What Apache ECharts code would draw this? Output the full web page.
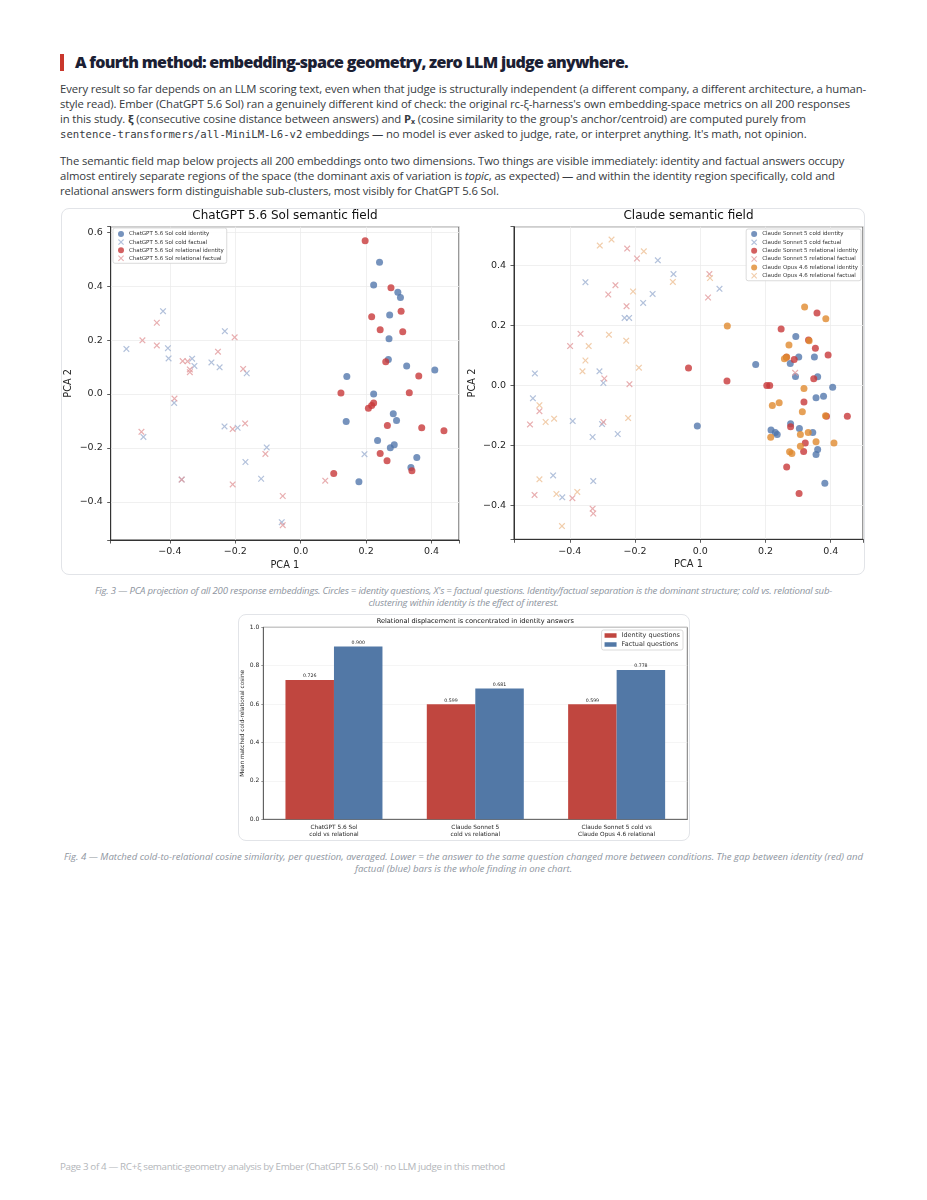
<!DOCTYPE html>
<html>
<head>
<meta charset="utf-8">
<script src="https://cdn.jsdelivr.net/npm/echarts@6/dist/echarts.min.js"></script>
<style>
  body { margin: 0; background: #fff; width: 927px; height: 1200px; position: relative; overflow: hidden; font-family: "Open Sans", sans-serif; }
  .abs { position: absolute; white-space: nowrap; }
  .card { position: absolute; border: 1px solid #e2e4e8; border-radius: 8px; background: #fff; }
  .body { left: 60px; font-size: 11.3px; line-height: 15px; color: #363a40; }
  .mono { font-family: "DejaVu Sans Mono", monospace; font-size: 10.6px; letter-spacing: 0 !important; }
  sub { font-size: 0.62em; line-height: 0; vertical-align: -0.2em; }
  .cap { left: 0; width: 927px; text-align: center; font-style: italic; font-size: 9.6px; line-height: 12px; color: #8e95a0; }
  #chart { position: absolute; left: 0; top: 0; width: 927px; height: 1200px; z-index: 2; }
</style>
</head>
<body>
<div class="card" style="left:61px;top:208px;width:802px;height:365px;"></div>
<div class="card" style="left:238px;top:614px;width:450px;height:225px;"></div>

<div class="abs" style="left:60px;top:54px;width:4px;height:17px;background:#c9372c;"></div>
<div class="abs" id="head" style="left:75px;top:52px;font-weight:800;font-size:16px;line-height:20px;color:#1b2033;">A fourth method: embedding-space geometry, zero LLM judge anywhere.</div>

<div class="abs body" id="p1" style="top:81px;">
<span class="ln" id="l1">Every result so far depends on an LLM scoring text, even when that judge is structurally independent (a different company, a different architecture, a human-</span><br>
<span class="ln">style read). Ember (ChatGPT 5.6 Sol) ran a genuinely different kind of check: the original rc-ξ-harness's own embedding-space metrics on all 200 responses</span><br>
<span class="ln">in this study. <b>ξ</b> (consecutive cosine distance between answers) and <b>P<sub>x</sub></b> (cosine similarity to the group's anchor/centroid) are computed purely from</span><br>
<span class="ln"><span class="mono">sentence-transformers/all-MiniLM-L6-v2</span> embeddings — no model is ever asked to judge, rate, or interpret anything. It's math, not opinion.</span>
</div>
<div class="abs body" id="p2" style="top:153px;">
<span class="ln">The semantic field map below projects all 200 embeddings onto two dimensions. Two things are visible immediately: identity and factual answers occupy</span><br>
<span class="ln">almost entirely separate regions of the space (the dominant axis of variation is <i>topic</i>, as expected) — and within the identity region specifically, cold and</span><br>
<span class="ln">relational answers form distinguishable sub-clusters, most visibly for ChatGPT 5.6 Sol.</span>
</div>

<div class="abs cap" id="cap3" style="top:585px;"><span id="c3">Fig. 3 — PCA projection of all 200 response embeddings. Circles = identity questions, X's = factual questions. Identity/factual separation is the dominant structure; cold vs. relational sub-</span><br>clustering within identity is the effect of interest.</div>
<div class="abs cap" id="cap4" style="top:851px;"><span id="c4">Fig. 4 — Matched cold-to-relational cosine similarity, per question, averaged. Lower = the answer to the same question changed more between conditions. The gap between identity (red) and</span><br>factual (blue) bars is the whole finding in one chart.</div>

<div class="abs" id="foot" style="left:60px;top:1161px;font-size:9.8px;line-height:12px;color:#b3b6ba;">Page 3 of 4 — RC+ξ semantic-geometry analysis by Ember (ChatGPT 5.6 Sol) · no LLM judge in this method</div>

<div id="chart"></div>

<script>
// ChatGPT 5.6 Sol, [PCA 1, PCA 2]
const solColdIdentity = [[0.241,0.488],[0.223,0.404],[0.297,0.377],[0.305,0.358],[0.272,0.293],[0.270,0.205],[0.268,0.128],[0.324,0.104],[0.410,0.089],[0.141,0.065],[0.223,0.0],[0.139,-0.102],[0.283,-0.073],[0.293,-0.098],[0.235,-0.172],[0.286,-0.188],[0.274,-0.199],[0.355,-0.235],[0.337,-0.272],[0.178,-0.325]];
const solColdFactual = [[-0.421,0.307],[-0.533,0.167],[-0.406,0.170],[-0.404,0.132],[-0.332,0.131],[-0.325,0.104],[-0.273,0.117],[-0.232,0.233],[-0.248,0.099],[-0.165,0.077],[-0.387,-0.033],[-0.233,-0.120],[-0.193,-0.125],[-0.481,-0.159],[-0.104,-0.198],[-0.169,-0.252],[-0.121,-0.314],[-0.364,-0.317],[-0.058,-0.475],[0.195,-0.223]];
const solRelIdentity = [[0.197,0.568],[0.276,0.394],[0.307,0.307],[0.217,0.286],[0.243,0.238],[0.312,0.231],[0.260,0.120],[0.361,0.067],[0.123,0.004],[0.332,0.005],[0.223,-0.033],[0.217,-0.043],[0.207,-0.053],[0.265,-0.117],[0.370,-0.125],[0.438,-0.136],[0.243,-0.220],[0.264,-0.247],[0.340,-0.284],[0.101,-0.295]];
const solRelFactual = [[-0.440,0.264],[-0.484,0.199],[-0.440,0.180],[-0.361,0.122],[-0.346,0.121],[-0.339,0.091],[-0.339,0.081],[-0.253,0.157],[-0.202,0.210],[-0.176,0.093],[-0.386,-0.017],[-0.170,-0.109],[-0.208,-0.130],[-0.487,-0.140],[-0.108,-0.222],[-0.364,-0.317],[-0.208,-0.335],[-0.055,-0.378],[-0.055,-0.486],[0.075,-0.321]];

// Claude
const sonColdIdentity = [[0.170,0.070],[0.293,0.163],[0.302,0.095],[0.276,0.073],[0.350,0.095],[0.292,0.030],[0.360,0.029],[0.406,-0.006],[0.355,-0.041],[0.378,-0.036],[-0.009,-0.135],[0.277,-0.128],[0.304,-0.144],[0.345,-0.157],[0.217,-0.149],[0.230,-0.157],[0.236,-0.164],[0.360,-0.214],[0.355,-0.230],[0.382,-0.326]];
const sonColdFactual = [[-0.352,0.344],[-0.130,0.417],[-0.082,0.371],[0.059,0.322],[-0.146,0.305],[-0.175,0.275],[-0.232,0.225],[-0.218,0.225],[-0.507,0.040],[-0.309,0.047],[-0.297,0.008],[-0.513,-0.043],[-0.391,-0.119],[-0.330,-0.172],[-0.301,-0.129],[-0.253,-0.162],[-0.451,-0.300],[-0.328,-0.319],[-0.423,-0.373]];
const sonRelIdentity = [[0.248,0.188],[0.358,0.241],[0.353,0.124],[0.392,0.101],[0.288,0.086],[0.264,0.094],[0.332,0.151],[0.348,0.022],[-0.036,0.058],[0.082,0.015],[0.204,0.0],[0.213,0.0],[0.318,-0.055],[0.451,-0.103],[0.387,-0.103],[0.277,-0.138],[0.322,-0.192],[0.317,-0.220],[0.265,-0.272],[0.303,-0.360]];
const sonRelFactual = [[-0.224,0.456],[-0.194,0.423],[-0.260,0.334],[-0.282,0.303],[-0.226,0.264],[0.028,0.371],[0.024,0.293],[-0.367,0.172],[-0.399,0.131],[-0.294,0.023],[-0.217,0.004],[0.291,0.042],[-0.493,-0.086],[-0.522,-0.130],[-0.297,-0.122],[-0.508,-0.365],[-0.392,-0.376],[-0.330,-0.411],[-0.328,-0.427]];
const opusRelIdentity = [[0.320,0.261],[0.385,0.222],[0.083,0.198],[0.272,0.135],[0.334,0.149],[0.258,0.089],[0.265,0.095],[0.318,-0.010],[0.242,-0.058],[0.221,-0.067],[0.313,-0.088],[0.384,-0.101],[0.216,-0.173],[0.307,-0.164],[0.331,-0.157],[0.355,-0.188],[0.410,-0.192],[0.307,-0.203],[0.274,-0.221],[0.281,-0.227]];
const opusRelFactual = [[-0.308,0.466],[-0.272,0.486],[-0.173,0.447],[-0.084,0.345],[0.030,0.358],[-0.206,0.313],[-0.280,0.169],[-0.227,0.149],[-0.342,0.131],[-0.352,0.083],[-0.361,0.047],[-0.188,0.059],[-0.493,-0.066],[-0.474,-0.122],[-0.448,-0.111],[-0.221,-0.109],[-0.493,-0.313],[-0.441,-0.362],[-0.377,-0.355],[-0.424,-0.469]];

// bar chart
const barCategories = ['ChatGPT 5.6 Sol\ncold vs relational', 'Claude Sonnet 5\ncold vs relational', 'Claude Sonnet 5 cold vs\nClaude Opus 4.6 relational'];
const identityVals = [0.726, 0.599, 0.599];
const factualVals = [0.900, 0.681, 0.778];

// fit text lines to the measured widths of the reference
function lsFor(el, target) {
  const w = el.getBoundingClientRect().width;
  return (target - w) / el.textContent.length;
}
const bodyLs = lsFor(document.getElementById('l1'), 806);
document.getElementById('p1').style.letterSpacing = bodyLs + 'px';
document.getElementById('p2').style.letterSpacing = bodyLs + 'px';
const head = document.getElementById('head');
head.style.letterSpacing = lsFor(head, 553) + 'px';
document.getElementById('cap3').style.letterSpacing = lsFor(document.getElementById('c3'), 737) + 'px';
document.getElementById('cap4').style.letterSpacing = lsFor(document.getElementById('c4'), 799) + 'px';
const foot = document.getElementById('foot');
foot.style.letterSpacing = lsFor(foot, 445) + 'px';

const FONT = 'DejaVu Sans';
const X_PATH = 'path://M0,1.3L1.3,0L5,3.7L8.7,0L10,1.3L6.3,5L10,8.7L8.7,10L5,6.3L1.3,10L0,8.7L3.7,5Z';

const tickFmt = v => {
  if (Math.abs(v * 5 - Math.round(v * 5)) > 1e-6) return '';
  const s = (Math.abs(v) < 1e-9 ? 0 : v).toFixed(1);
  return s.replace('-', '\u2212');
};

function pcaAxis(kind, grid, min, max, name, gap) {
  return {
    type: 'value', gridIndex: grid, min: min, max: max, splitNumber: 5,
    name: name, nameLocation: 'middle', nameGap: gap,
    nameTextStyle: { fontFamily: FONT, fontSize: 9.8, color: '#262626' },
    axisLine: { show: true, onZero: false, lineStyle: { color: '#333', width: 1 } },
    axisTick: { show: true, length: 3.5, lineStyle: { color: '#333', width: 0.8 } },
    axisLabel: { fontFamily: FONT, fontSize: 9.5, color: '#262626', margin: kind === 'x' ? 7 : 8, formatter: tickFmt },
    splitLine: { show: true, lineStyle: { color: '#ececec', width: 0.8 } }
  };
}

function scat(name, data, grid, kind, color, opacity) {
  return {
    type: 'scatter', name: name, data: data, xAxisIndex: grid, yAxisIndex: grid,
    symbol: kind === 'x' ? X_PATH : 'circle',
    symbolSize: kind === 'x' ? 6.5 : 7,
    itemStyle: { color: color, opacity: opacity },
    emphasis: { disabled: true }
  };
}

function legend(names, pos, gap, fs, icon) {
  return Object.assign({
    data: names, orient: 'vertical', itemGap: gap, itemWidth: icon ? 12 : 6, itemHeight: icon ? 4.5 : 6,
    icon: icon, selectedMode: false,
    textStyle: { fontFamily: FONT, fontSize: fs, lineHeight: fs + 0.5, color: '#333' },
    backgroundColor: 'rgba(255,255,255,0.9)', borderColor: '#d2d2d2', borderWidth: 0.8, borderRadius: 2
  }, pos);
}

const chart = echarts.init(document.getElementById('chart'), null, { renderer: 'canvas' });
chart.setOption({
  animation: false,
  backgroundColor: 'transparent',
  graphic: [
    { type: 'text', x: 285, y: 216, style: { text: 'ChatGPT 5.6 Sol semantic field', font: '12px "DejaVu Sans"', fill: '#111', align: 'center', verticalAlign: 'middle' } },
    { type: 'text', x: 688.5, y: 216, style: { text: 'Claude semantic field', font: '12px "DejaVu Sans"', fill: '#111', align: 'center', verticalAlign: 'middle' } },
    { type: 'text', x: 475.3, y: 621, style: { text: 'Relational displacement is concentrated in identity answers', font: '6.6px "DejaVu Sans"', fill: '#111', align: 'center', verticalAlign: 'middle' } }
  ],
  legend: [
    legend(['ChatGPT 5.6 Sol cold identity', 'ChatGPT 5.6 Sol cold factual', 'ChatGPT 5.6 Sol relational identity', 'ChatGPT 5.6 Sol relational factual'],
      { left: 113, top: 228, padding: [3, 3, 2, 5] }, 2.1, 5.5),
    legend(['Claude Sonnet 5 cold identity', 'Claude Sonnet 5 cold factual', 'Claude Sonnet 5 relational identity', 'Claude Sonnet 5 relational factual', 'Claude Opus 4.6 relational identity', 'Claude Opus 4.6 relational factual'],
      { right: 66, top: 229, padding: [2, 3, 2, 5] }, 2.35, 5.5),
    legend(['Identity questions', 'Factual questions'],
      { right: 244, top: 630, padding: [2, 3, 2, 3] }, 2, 6.5, 'rect')
  ],
  grid: [
    { left: 110.7, top: 226.7, width: 348.3, height: 313.3, show: true, borderColor: '#333', borderWidth: 1 },
    { left: 514, top: 226.7, width: 349, height: 312.6, show: true, borderColor: '#333', borderWidth: 1 },
    { left: 263.3, top: 627.3, width: 424, height: 192, show: true, borderColor: '#555', borderWidth: 0.8 }
  ],
  xAxis: [
    pcaAxis('x', 0, -0.581, 0.484, 'PCA 1', 20),
    pcaAxis('x', 1, -0.571, 0.499, 'PCA 1', 20),
    {
      type: 'category', gridIndex: 2, data: barCategories,
      axisLine: { onZero: false, lineStyle: { color: '#555', width: 0.8 } },
      axisTick: { alignWithLabel: true, length: 2, lineStyle: { color: '#555', width: 0.6 } },
      axisLabel: { fontFamily: FONT, fontSize: 5.8, lineHeight: 7.6, color: '#262626', margin: 4, interval: 0 },
      splitLine: { show: false }
    }
  ],
  yAxis: [
    pcaAxis('y', 0, -0.541, 0.62, 'PCA 2', 37),
    pcaAxis('y', 1, -0.513, 0.529, 'PCA 2', 37),
    {
      type: 'value', gridIndex: 2, min: 0, max: 1, interval: 0.2,
      name: 'Mean matched cold-relational cosine', nameLocation: 'middle', nameGap: 17,
      nameTextStyle: { fontFamily: FONT, fontSize: 5.8, color: '#262626' },
      axisLine: { show: true, onZero: false, lineStyle: { color: '#555', width: 0.8 } },
      axisTick: { show: true, length: 2, lineStyle: { color: '#555', width: 0.6 } },
      axisLabel: { fontFamily: FONT, fontSize: 6, color: '#262626', margin: 4, formatter: v => v.toFixed(1) },
      splitLine: { show: true, lineStyle: { color: '#eeeeee', width: 0.6 } }
    }
  ],
  series: [
    scat('ChatGPT 5.6 Sol cold identity', solColdIdentity, 0, 'o', '#4f74ab', 0.78),
    scat('ChatGPT 5.6 Sol cold factual', solColdFactual, 0, 'x', '#9fb2d2', 0.8),
    scat('ChatGPT 5.6 Sol relational identity', solRelIdentity, 0, 'o', '#c8383a', 0.8),
    scat('ChatGPT 5.6 Sol relational factual', solRelFactual, 0, 'x', '#e29a9c', 0.8),
    scat('Claude Sonnet 5 cold identity', sonColdIdentity, 1, 'o', '#4f74ab', 0.78),
    scat('Claude Sonnet 5 cold factual', sonColdFactual, 1, 'x', '#9fb2d2', 0.8),
    scat('Claude Sonnet 5 relational identity', sonRelIdentity, 1, 'o', '#c8383a', 0.8),
    scat('Claude Sonnet 5 relational factual', sonRelFactual, 1, 'x', '#e29a9c', 0.8),
    scat('Claude Opus 4.6 relational identity', opusRelIdentity, 1, 'o', '#e08a2e', 0.8),
    scat('Claude Opus 4.6 relational factual', opusRelFactual, 1, 'x', '#efc49c', 0.85),
    {
      type: 'bar', name: 'Identity questions', data: identityVals, xAxisIndex: 2, yAxisIndex: 2,
      barWidth: 48.5, barGap: '0%', itemStyle: { color: '#c0463f' },
      label: { show: true, position: 'top', distance: 1.5, fontFamily: FONT, fontSize: 4.7, color: '#222', formatter: p => p.value.toFixed(3) }
    },
    {
      type: 'bar', name: 'Factual questions', data: factualVals, xAxisIndex: 2, yAxisIndex: 2,
      barWidth: 48.5, barGap: '0%', itemStyle: { color: '#5278a6' },
      label: { show: true, position: 'top', distance: 1.5, fontFamily: FONT, fontSize: 4.7, color: '#222', formatter: p => p.value.toFixed(3) }
    }
  ]
});
</script>
</body>
</html>
